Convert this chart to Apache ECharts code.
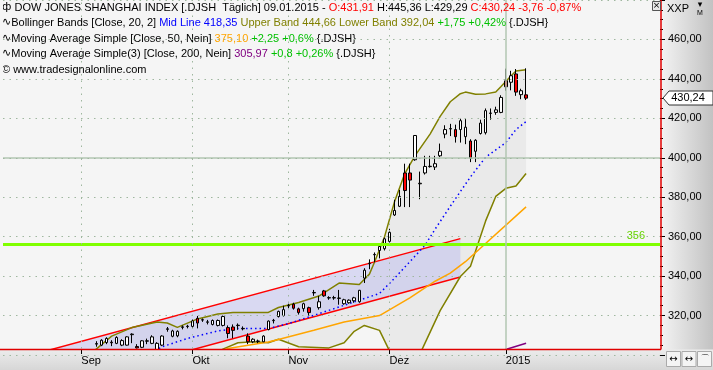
<!DOCTYPE html>
<html><head><meta charset="utf-8">
<script src="https://cdn.jsdelivr.net/npm/echarts@6/dist/echarts.min.js"></script>
<style>html,body{margin:0;padding:0;background:#f5f5f5}#c{width:713px;height:370px}</style>
</head><body><div id="c"></div>
<script>
// ---- data ----
const FIRST = 18;            // category index of first visible candle
const N_BARS = 130;          // categories on the axis (incl. empty future space)
const monthTicks = {15:'Sep', 37:'Okt', 56:'Nov', 76:'Dez', 99:'2015'};
const opens  = [305.5,305.0,306.3,306.5,305.9,305.0,305.0,310.3,304.3,303.9, 307.0,305.9,302.6,305.0,313.0,309.5,309.7,314.0,314.4,314.5, 318.6,317.7,316.6,315.5,315.0,315.0,313.9,314.2,314.9,313.3, 309.6,306.7,306.9,306.7,312.9,317.4,319.5,320.0,324.9,325.8, 323.4,323.5,324.0,331.5,324.0,332.5,328.9,328.9,328.7,326.0, 326.5,327.5,327.0,339.0,346.3,350.8,353.0,353.9,357.6,371.0, 375.4,392.3,392.3,399.0,386.8,392.3,395.5,395.3,401.0,412.0, 414.6,414.3,414.3,410.7,408.5,403.3,412.3,412.7,422.5,423.0, 423.0,439.0,438.3,442.5,432.0,431.91];
const highs  = [307.0,308.0,309.0,307.5,309.5,308.0,309.5,311.0,305.5,307.5, 308.3,310.0,306.5,310.0,314.2,312.8,312.5,315.0,315.3,318.0, 319.8,318.5,317.8,318.0,318.0,320.0,315.0,315.5,316.0,314.5, 311.0,308.5,307.8,310.0,317.5,318.3,322.5,325.0,326.0,326.5, 324.0,326.5,324.5,333.0,330.0,333.0,329.8,330.0,333.0,328.5, 328.2,329.5,333.0,344.0,348.5,352.0,355.5,359.5,364.0,378.7, 383.7,397.0,397.0,411.5,393.0,401.0,401.0,401.0,407.2,416.5, 417.2,416.8,419.8,419.6,409.4,409.4,419.3,425.0,425.0,425.9, 431.7,445.2,444.1,445.0,435.0,445.36];
const lows   = [304.2,304.5,305.5,304.5,305.5,304.5,304.8,306.0,303.3,303.5, 305.5,305.5,302.0,304.5,311.8,309.0,309.0,313.0,313.5,313.8, 313.5,316.8,315.5,315.0,314.5,314.5,308.5,308.5,312.8,312.5, 305.5,306.0,306.0,306.5,312.5,316.0,319.0,319.5,323.5,323.0, 320.5,322.0,319.8,330.0,323.0,329.5,328.0,328.0,325.5,325.5, 326.0,326.5,326.5,336.5,343.5,347.0,349.0,353.0,357.0,370.5, 375.0,375.0,375.0,398.5,379.0,391.5,395.0,393.8,400.3,409.9, 411.0,407.7,407.7,406.9,397.8,397.8,411.8,411.8,419.3,421.8, 422.6,434.0,434.2,431.4,429.7,429.29];
const closes = [305.8,307.5,308.4,306.2,308.9,307.3,309.2,310.6,303.6,307.2, 307.2,309.2,305.9,309.6,313.3,312.2,312.0,314.3,314.6,317.2, 316.2,317.9,316.8,317.5,317.5,319.5,310.9,312.5,315.1,313.5, 306.7,308.0,307.1,309.6,317.2,317.6,322.1,323.0,325.1,323.7, 321.5,326.0,321.5,331.7,327.0,330.0,329.1,329.1,328.9,328.0, 327.8,329.0,332.8,343.0,346.5,351.0,355.0,358.9,362.2,373.3, 380.4,383.4,388.7,411.3,387.1,395.6,395.7,397.0,403.3,414.3, 414.8,410.7,418.8,415.5,399.9,408.9,417.6,423.9,422.7,424.3, 430.6,436.0,441.6,433.3,434.0,430.24];
// indicator lines: [category index, value]
const bbUpper = [[16,298],[18,303.1],[21,309.6],[25,313.9],[30,316.7],[32,316.2],[34,314],[38,318.3],[42,320.8],[45,321.6],[52,321.6],[54,324.1],[58,326.6],[62,329.9],[66,336.5],[70,335.7],[72,341],[73,347],[75,360],[77,378],[79,392],[81,401],[84,412],[86,421],[88,428.4],[90,432.5],[91,433.3],[93,432.2],[95,432.4],[97,433.3],[98,436],[100,441.5],[101,444],[103,444.66]];
const bbMid   = [[28,300],[31,304.2],[36,308.4],[42,312.2],[46,313.4],[52,313.4],[56,315.9],[65,323.5],[74,331.2],[77,339],[83,355.6],[85,363.8],[88,375.4],[92,390.3],[95,400.3],[99,407.7],[101,414.3],[103,418.35]];
const bbLower = [[16,285],[30,292],[40,298],[43,303],[46,306.2],[49,306.7],[52,306.2],[54,308],[58,304.2],[64,303.6],[67,306.2],[69,312],[71,315],[74,312.5],[76,302],[79,290],[81,295],[83,306],[86,322.5],[90,339.8],[92,345],[95,368],[97,380.4],[99,384.5],[101,385.7],[103,392.04]];
const sma50   = [[42,301],[44,303.3],[52,306.6],[54,307.9],[61,312.5],[67,316.7],[74,320],[80,329],[85,337.4],[88,341.5],[91,347.3],[103,375.1]];
const sma200  = [[98,302],[103,305.97]];
const chanUpper = [[0,296.5],[90,359.0]];
const chanLower = [[0,277.0],[90,339.5]];
const hLevel = 356, refLevel = 400, yearStartIdx = 99;
const yTicks = {min:300, max:480, step:20};

// ---- build ----
const fmt = v => v.toFixed(2).replace('.', ',');
const categories = Array.from({length:N_BARS}, (_, i) => 'd' + i);
const candleData = categories.map((_, i) => {
  const k = i - FIRST;
  if (k < 0 || k >= opens.length) return '-';
  return [opens[k], closes[k], lows[k], highs[k]];
});
const L = opens.length - 1;
const chg = closes[L] - closes[L-1];
const pct = chg / closes[L-1] * 100;
const sgn = v => (v >= 0 ? '+' : '') + v.toFixed(2).replace('.', ',');

const FONT = 'Liberation Sans';
function polyFill(upper, lower, fill) {
  return function (params, api) {
    const pts = upper.map(p => api.coord(p)).concat(lower.slice().reverse().map(p => api.coord(p)));
    const cs = params.coordSys;
    return { type:'polygon', shape:{points:pts}, style:{fill:fill},
      clipPath:{type:'rect', shape:{x:cs.x, y:cs.y, width:cs.width, height:cs.height}} };
  };
}
const rich = {
  k:{color:'#000', fontFamily:FONT, fontSize:11},
  ic:{color:'#000', fontFamily:'DejaVu Sans', fontSize:11},
  r:{color:'#ff0000', fontFamily:FONT, fontSize:11},
  b:{color:'#0000ff', fontFamily:FONT, fontSize:11},
  o:{color:'#808000', fontFamily:FONT, fontSize:11},
  g:{color:'#00c000', fontFamily:FONT, fontSize:11},
  y:{color:'#ffa500', fontFamily:FONT, fontSize:11},
  p:{color:'#800080', fontFamily:FONT, fontSize:11}
};
const titleBase = {padding:0, textStyle:{fontWeight:'normal', fontSize:11, color:'#000', fontFamily:FONT, rich:rich}};
const titles = [
  {left:2, top:2, text:'{ic|ф} {k|DOW JONES SHANGHAI INDEX [.DJSH  Täglich] 09.01.2015 - }{r|O:' + fmt(opens[L]) + '}{k| H:' + fmt(highs[L]) + ' L:' + fmt(lows[L]) + '}{r| C:' + fmt(closes[L]) + ' ' + sgn(chg) + ' ' + sgn(pct) + '%}'},
  {left:2, top:17, text:'{ic|∿}{k|Bollinger Bands [Close, 20, 2] }{b|Mid Line 418,35 }{o|Upper Band 444,66 Lower Band 392,04 }{g|+1,75 +0,42% }{.DJSH}'},
  {left:2, top:33, text:'{ic|∿}{k|Moving Average Simple [Close, 50, Nein] }{y|375,10 }{g|+2,25 +0,6% }{.DJSH}'},
  {left:2, top:48, text:'{ic|∿}{k|Moving Average Simple(3) [Close, 200, Nein] }{p|305,97 }{g|+0,8 +0,26% }{.DJSH}'},
  {left:2, top:64, text:'{k|© www.tradesignalonline.com}'}
].map(t => Object.assign({}, titleBase, t));

const gridLineCol = '#9fb79f';
const chart = echarts.init(document.getElementById('c'));
chart.setOption({
  animation:false,
  backgroundColor:'#f5f5f5',
  title: titles,
  grid:{left:3, right:53, top:-7, bottom:15},
  xAxis:{type:'category', data:categories, boundaryGap:true, offset:-6, z:60,
    axisLine:{show:false},
    axisTick:{show:true, alignWithLabel:true, length:5, interval:(i)=> i in monthTicks, lineStyle:{color:'#000'}},
    axisLabel:{interval:(i)=> i in monthTicks, formatter:(v,i)=> monthTicks[i] || '', align:'left', margin:6,
      color:'#000', fontFamily:FONT, fontSize:11},
    splitLine:{show:false}},
  yAxis:{type:'value', position:'right', min:yTicks.min, max:yTicks.max, interval:yTicks.step, z:60,
    axisLine:{show:false},
    axisTick:{show:true, length:5, lineStyle:{color:'#000'}},
    minorTick:{show:true, splitNumber:4, length:3, lineStyle:{color:'#000'}},
    axisLabel:{formatter:(v)=>fmt(v), margin:8, color:'#000', fontFamily:FONT, fontSize:11, showMinLabel:false, showMaxLabel:false},
    splitLine:{show:true, lineStyle:{color:gridLineCol, type:[1.5,5], width:1}}},
  series:[
    {type:'custom', name:'bbFill', data:[[0,0]], renderItem:polyFill(bbUpper, bbLower, '#eaeaea'), silent:true, z:1},
    {type:'custom', name:'chanFill', data:[[0,0]], renderItem:polyFill(chanUpper, chanLower, 'rgba(185,185,240,0.45)'), silent:true, z:1},
    {type:'line', data:chanUpper, symbol:'none', lineStyle:{color:'#ff0000', width:1.5}, z:3},
    {type:'line', data:chanLower, symbol:'none', lineStyle:{color:'#ff0000', width:1.5}, z:3},
    {type:'line', data:bbUpper, symbol:'none', lineStyle:{color:'#808000', width:1.5}, z:3},
    {type:'line', data:bbLower, symbol:'none', lineStyle:{color:'#808000', width:1.5}, z:3},
    {type:'line', data:bbMid, symbol:'none', lineStyle:{color:'#0000ff', width:1.5, type:[1.5,3]}, z:3},
    {type:'line', data:sma50, symbol:'none', lineStyle:{color:'#ffa500', width:1.5}, z:3},
    {type:'line', data:sma200, symbol:'none', lineStyle:{color:'#800080', width:1.5}, z:3},
    {type:'candlestick', data:candleData, barWidth:3, z:4,
      itemStyle:{color:'#ffffff', color0:'#ff0000', borderColor:'#000', borderColor0:'#000', borderWidth:1},
      markLine:{silent:true, symbol:['none','none'], animation:false,
        data:[
          {yAxis:hLevel, lineStyle:{color:'#80ff00', width:3, type:'solid'},
            label:{show:true, formatter:String(hLevel), position:'insideEndTop', distance:[15,3], color:'#66d400', fontFamily:FONT, fontSize:11}},
          {yAxis:refLevel, lineStyle:{color:'#b2c6b2', width:1.5, type:'solid'}, label:{show:false}},
          {xAxis:'d' + yearStartIdx, lineStyle:{color:'#b2c6b2', width:1.5, type:'solid'}, label:{show:false}},
          ...Object.keys(monthTicks).filter(k => +k !== yearStartIdx).map(k => ({xAxis:'d' + k,
            lineStyle:{color:gridLineCol, width:1, type:[1.5,5]}, label:{show:false}}))
        ]}}
  ]
});

// price tag + frame (uses the chart's own scale)
const p = chart.convertToPixel({gridIndex:0}, [FIRST + L, closes[L]]);
const ty = Math.round(p[1]);
chart.setOption({graphic:[
  {type:'rect', z:50, silent:true, shape:{x:661, y:0, width:52, height:350},
    style:{fill:new echarts.graphic.LinearGradient(0,0,1,0,[{offset:0,color:'#f3f3f3'},{offset:1,color:'#c2c2c2'}])}},
  {type:'rect', z:50, silent:true, shape:{x:0, y:349.5, width:713, height:21},
    style:{fill:new echarts.graphic.LinearGradient(0,0,0,1,[{offset:0,color:'#ececec'},{offset:1,color:'#d6d6d6'}])}},
  {type:'rect', z:50, silent:true, shape:{x:0, y:0, width:3, height:349.5}, style:{fill:'#f5f5f5'}},
  {type:'line', z:70, shape:{x1:661, y1:0, x2:661, y2:349.5}, style:{stroke:'#e00000', lineWidth:1.5}},
  {type:'line', z:70, shape:{x1:0, y1:349.5, x2:661, y2:349.5}, style:{stroke:'#e00000', lineWidth:1.5}},
  {type:'polygon', z:80, shape:{points:[[663,ty],[669,ty-7],[713,ty-7],[713,ty+7],[669,ty+7]]}, style:{fill:'#fff', stroke:'#333', lineWidth:1}},
  {type:'text', z:81, x:688, y:ty, style:{text:fmt(closes[L]), fill:'#000', font:'11px ' + FONT, textAlign:'center', textVerticalAlign:'middle'}},
  {type:'text', z:81, x:667, y:9, style:{text:'XXP', fill:'#000', font:'11px ' + FONT, textVerticalAlign:'middle'}},
  {type:'text', z:81, x:700, y:5, style:{text:'▾', fill:'#000', font:'9px DejaVu Sans', textAlign:'center', textVerticalAlign:'middle'}},
  {type:'text', z:81, x:700, y:13, style:{text:'M', fill:'#000', font:'7px ' + FONT, textAlign:'center', textVerticalAlign:'middle'}},
  {type:'rect', z:81, shape:{x:652.5, y:1.5, width:8, height:9}, style:{fill:'#e8e8e8', stroke:'#555', lineWidth:1}},
  {type:'text', z:82, x:656.5, y:6, style:{text:'×', fill:'#000', font:'9px DejaVu Sans', textAlign:'center', textVerticalAlign:'middle'}},
  ...['↔','↔','⌒'].map((s, i) => ({type:'group', z:81, children:[
    {type:'rect', z:81, shape:{x:666.5 + i*15.5, y:351.5, width:14, height:15}, style:{fill:'#f4f4f4', stroke:'#aaa', lineWidth:1}},
    {type:'text', z:82, x:673.5 + i*15.5, y:359, style:{text:s, fill:'#000', font:'10px DejaVu Sans', textAlign:'center', textVerticalAlign:'middle'}}
  ]}))
]});
</script></body></html>
